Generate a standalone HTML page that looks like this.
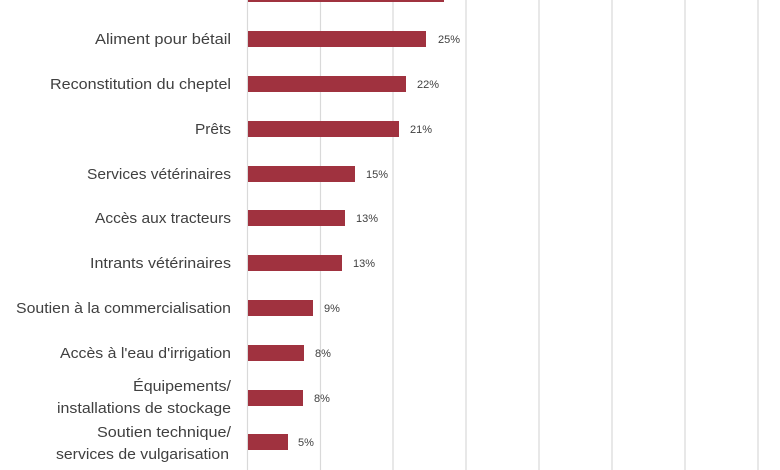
<!DOCTYPE html>
<html><head><meta charset="utf-8"><style>
html,body{margin:0;padding:0;background:#fff;}
svg{display:block;font-family:"Liberation Sans",sans-serif;}
.c{font-size:15px;fill:#404040;text-anchor:end;}
.v{font-size:11px;fill:#404040;}
</style></head><body>
<svg width="780" height="470" viewBox="0 0 780 470">
<g stroke="#d9d9d9" stroke-width="1.2">
<line x1="320.5" y1="0" x2="320.5" y2="470"/>
<line x1="393" y1="0" x2="393" y2="470"/>
<line x1="466" y1="0" x2="466" y2="470"/>
<line x1="539" y1="0" x2="539" y2="470"/>
<line x1="612" y1="0" x2="612" y2="470"/>
<line x1="685" y1="0" x2="685" y2="470"/>
<line x1="758" y1="0" x2="758" y2="470"/>
<line x1="247.5" y1="0" x2="247.5" y2="470"/>
</g>
<g fill="#a0323f">
<rect x="248" y="-14" width="196" height="16"/>
<rect x="248" y="31" width="178" height="16"/>
<rect x="248" y="76" width="158" height="16"/>
<rect x="248" y="121" width="151" height="16"/>
<rect x="248" y="166" width="107" height="16"/>
<rect x="248" y="210" width="97" height="16"/>
<rect x="248" y="255" width="94" height="16"/>
<rect x="248" y="300" width="65" height="16"/>
<rect x="248" y="345" width="56" height="16"/>
<rect x="248" y="390" width="55" height="16"/>
<rect x="248" y="434" width="40" height="16"/>
</g>
<g class="v">
<text x="438" y="43">25%</text>
<text x="417" y="88">22%</text>
<text x="410" y="133">21%</text>
<text x="366" y="178">15%</text>
<text x="356" y="222">13%</text>
<text x="353" y="267">13%</text>
<text x="324" y="312">9%</text>
<text x="315" y="357">8%</text>
<text x="314" y="402">8%</text>
<text x="298" y="446">5%</text>
</g>
<g class="c">
<text x="231" y="44" textLength="136" lengthAdjust="spacingAndGlyphs">Aliment pour bétail</text>
<text x="231" y="89" textLength="181" lengthAdjust="spacingAndGlyphs">Reconstitution du cheptel</text>
<text x="231" y="134" textLength="36" lengthAdjust="spacingAndGlyphs">Prêts</text>
<text x="231" y="179" textLength="144" lengthAdjust="spacingAndGlyphs">Services vétérinaires</text>
<text x="231" y="223" textLength="136" lengthAdjust="spacingAndGlyphs">Accès aux tracteurs</text>
<text x="231" y="268" textLength="141" lengthAdjust="spacingAndGlyphs">Intrants vétérinaires</text>
<text x="231" y="313" textLength="215" lengthAdjust="spacingAndGlyphs">Soutien à la commercialisation</text>
<text x="231" y="358" textLength="171" lengthAdjust="spacingAndGlyphs">Accès à l'eau d'irrigation</text>
<text x="231" y="391" textLength="98" lengthAdjust="spacingAndGlyphs">Équipements/</text>
<text x="231" y="413" textLength="174" lengthAdjust="spacingAndGlyphs">installations de stockage</text>
<text x="231" y="437" textLength="134" lengthAdjust="spacingAndGlyphs">Soutien technique/</text>
<text x="229" y="459" textLength="173" lengthAdjust="spacingAndGlyphs">services de vulgarisation</text>
</g>
</svg>
</body></html>
